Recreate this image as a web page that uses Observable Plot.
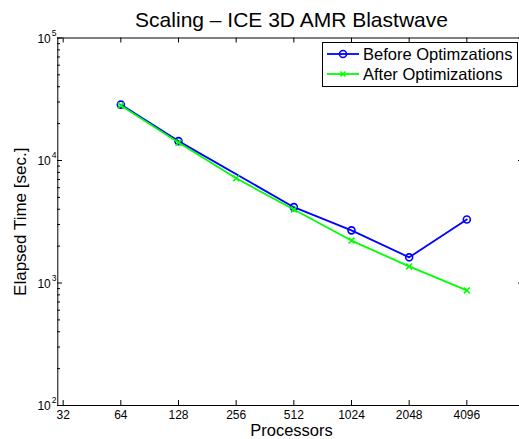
<!DOCTYPE html>
<html>
<head>
<meta charset="utf-8">
<script src="https://cdn.jsdelivr.net/npm/d3@7"></script>
<script src="https://cdn.jsdelivr.net/npm/@observablehq/plot@0.6"></script>
<style>
  html, body { margin: 0; padding: 0; background: white; overflow: hidden; }
  #wrap { position: relative; width: 519px; height: 439px; }
  #legend {
    position: absolute; left: 322px; top: 42px; width: 196px; height: 45px;
    border: 1px solid black; background: white; box-sizing: border-box;
    font-family: "Liberation Sans", Arial, sans-serif; font-size: 16.5px; color: black;
  }
  .row { position: absolute; left: 3px; height: 20px; display: flex; align-items: center; white-space: nowrap; }
  .row svg { margin-right: 3px; }
</style>
</head>
<body>
<div id="wrap"></div>
<script>
// ---- data ----
const processorsBefore = [64, 128, 512, 1024, 2048, 4096];
const timeBefore = [28600, 14400, 4160, 2690, 1620, 3300];
const processorsAfter = [64, 128, 256, 512, 1024, 2048, 4096];
const timeAfter = [28100, 14000, 7160, 3980, 2220, 1365, 870];
const seriesNames = ["Before Optimzations", "After Optimizations"];
const xTicks = [32, 64, 128, 256, 512, 1024, 2048, 4096];
const yMajor = [100, 1000, 10000, 100000];
const yExponents = ["2", "3", "4", "5"];
const titleText = "Scaling \u2013 ICE 3D AMR Blastwave";
const xLabel = "Processors";
const yLabel = "Elapsed Time [sec.]";

const before = processorsBefore.map((p, i) => ({p, t: timeBefore[i]}));
const after = processorsAfter.map((p, i) => ({p, t: timeAfter[i]}));
const yMinor = [];
for (let k = 0; k < 3; k++) for (let m = 2; m <= 9; m++) yMinor.push(m * yMajor[k]);

const BLUE = "#0000ff", GREEN = "#00ff00";
const frameH = 405 - 37.5;
const frameW = 519 - 57;

const chart = Plot.plot({
  width: 519, height: 439,
  marginLeft: 57, marginRight: 0, marginTop: 37.5, marginBottom: 34,
  style: {fontFamily: "Liberation Sans, Arial, sans-serif", background: "white", color: "black"},
  x: {type: "log", base: 2, domain: [30, 8192], range: [57.3, 524], axis: null},
  y: {type: "log", domain: [100, 100000], axis: null},
  marks: [
    // frame
    Plot.ruleY([100000], {stroke: "black", strokeWidth: 1}),
    Plot.ruleY([100], {stroke: "black", strokeWidth: 1}),
    Plot.ruleX([30], {stroke: "black", strokeWidth: 1}),
    // x ticks (bottom & top, inward)
    Plot.tickX(xTicks, {x: d => d, insetTop: frameH - 5, stroke: "black"}),
    Plot.tickX(xTicks, {x: d => d, insetBottom: frameH - 5, stroke: "black"}),
    // y ticks (left & right, inward)
    Plot.tickY(yMajor, {y: d => d, insetRight: frameW - 5, stroke: "black"}),
    Plot.tickY(yMinor, {y: d => d, insetRight: frameW - 3, stroke: "black"}),
    Plot.tickY(yMajor, {y: d => d, insetLeft: frameW - 1, stroke: "black"}),
    // tick labels
    Plot.text(xTicks, {x: d => d, y: 100, dy: 10, text: d => String(d), fontSize: 12, fill: "black"}),
    Plot.text(yMajor, {x: 30, y: d => d, dx: -7, dy: 1, text: d => "10", textAnchor: "end", fontSize: 12, fill: "black"}),
    Plot.text(yMajor, {x: 30, y: d => d, dx: -6, dy: -5, text: (d, i) => yExponents[i], textAnchor: "start", fontSize: 8.5, fill: "black"}),
    // series
    Plot.line(before, {x: "p", y: "t", stroke: BLUE, strokeWidth: 1.8}),
    Plot.dot(before, {x: "p", y: "t", stroke: BLUE, r: 3.5, strokeWidth: 1.6, fill: "none"}),
    Plot.line(after, {x: "p", y: "t", stroke: GREEN, strokeWidth: 1.8}),
    Plot.dot(after, {x: "p", y: "t", stroke: GREEN, symbol: "times", r: 2.8, strokeWidth: 1.6}),
    // title and axis labels
    Plot.text([titleText], {frameAnchor: "top", textAnchor: "middle", lineAnchor: "middle", dy: -17.5, dx: 3, text: d => d, fontSize: 21, fill: "black"}),
    Plot.text([xLabel], {frameAnchor: "bottom", textAnchor: "middle", lineAnchor: "middle", dy: 25, dx: 3, text: d => d, fontSize: 16.5, fill: "black"}),
    Plot.text([yLabel], {frameAnchor: "left", textAnchor: "middle", lineAnchor: "middle", dx: -37, rotate: -90, text: d => d, fontSize: 17, fill: "black"})
  ]
});
document.getElementById("wrap").appendChild(chart);

// legend
const legend = document.createElement("div");
legend.id = "legend";
const defs = [
  {name: seriesNames[0], color: BLUE, marker: "circle"},
  {name: seriesNames[1], color: GREEN, marker: "times"}
];
defs.forEach((d, i) => {
  const row = document.createElement("div");
  row.className = "row";
  row.style.top = (1 + i * 20) + "px";
  const markerSvg = d.marker === "circle"
    ? `<circle cx="17" cy="5" r="3.5" fill="none" stroke="${d.color}" stroke-width="1.6"/>`
    : `<path d="M14.5,2.5L19.5,7.5M19.5,2.5L14.5,7.5" stroke="${d.color}" stroke-width="1.6"/>`;
  row.innerHTML = `<svg width="34" height="10"><line x1="1" y1="5" x2="33" y2="5" stroke="${d.color}" stroke-width="1.8"/>${markerSvg}</svg><span>${d.name}</span>`;
  legend.appendChild(row);
});
document.getElementById("wrap").appendChild(legend);
</script>
</body>
</html>
